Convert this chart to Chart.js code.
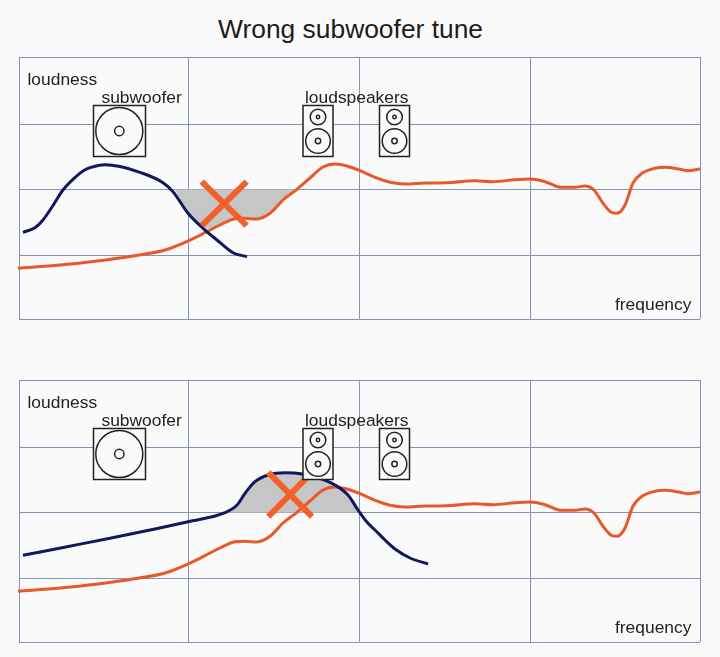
<!DOCTYPE html>
<html>
<head>
<meta charset="utf-8">
<title>Wrong subwoofer tune</title>
<script src="https://cdn.jsdelivr.net/npm/chart.js@4"></script>
<style>
  html, body { margin: 0; padding: 0; background: #fafafa; }
  #title { position: absolute; left: 218px; top: 14px; margin: 0; font: normal 26.4px "Liberation Sans", sans-serif; color: #1c1c1c; white-space: nowrap; }
  canvas { position: absolute; left: 0; }
  #topChart { top: 0; }
  #bottomChart { top: 323px; }
</style>
</head>
<body>
<h1 id="title">Wrong subwoofer tune</h1>
<canvas id="topChart" width="720" height="327"></canvas>
<canvas id="bottomChart" width="720" height="327"></canvas>
<script>
// axis units are arbitrary, the picture has no numbers on its axes
var freqTicks = [0, 169, 340, 511.5, 681];
var loudTicks = [-129.5, -65.5, 0, 65.5, 132.5];

// loudspeaker response, same in both panels
var speakerFreq = [-1, 41, 81, 114, 146, 169, 186, 201, 216, 226, 238, 251, 264, 278, 291, 304, 316, 328, 341, 356, 371, 386, 406, 428, 456, 474, 496, 511, 526, 543, 556, 566, 575, 584, 593, 598, 606, 614, 623, 636, 646, 661, 668, 681];
var speakerLoud = [-78.8, -75.5, -71.2, -66.5, -60.5, -51.5, -43.2, -35.5, -29.2, -28.8, -29.5, -23.8, -10.5, 0.2, 11.5, 22.5, 25.5, 23.5, 18.8, 12.2, 7.2, 5.5, 6.5, 6.8, 8.8, 7.8, 9.8, 10.5, 7.8, 2.2, 2.2, 3.5, -0.5, -13.8, -23.2, -23.8, -15.5, 6.5, 16.2, 21.2, 22.2, 20.2, 18.8, 20.5];

// subwoofer tuned too low
var lowSubFreq = [4, 16, 24, 34, 44, 56, 64, 71, 86, 101, 121, 144, 154, 169, 184, 198, 214, 228];
var lowSubLoud = [-42.8, -38.2, -30.5, -16, -0.5, 12, 18.5, 21.8, 24.8, 23, 17.2, 6.8, -2.2, -23.8, -38.8, -50.5, -63.2, -67.2];
var lowGapFreq = [156, 169, 186, 201, 216, 226, 238, 251, 264, 278];
var lowGapLoud = [0, -23.8, -39.5, -35.5, -29.2, -28.8, -29.5, -23.8, -10.5, 0];
var lowCrossFreq = [182.7, 227.7];
var lowCrossDown = [7.8, -36.2];
var lowCrossUp = [-36.2, 7.8];

// subwoofer tuned too high
var highSubFreq = [4, 48, 91, 131, 169, 206, 218, 226, 236, 249, 266, 283, 313, 329, 339, 349, 356, 366, 376, 391, 409];
var highSubLoud = [-42.8, -34.2, -25.8, -17.5, -9.2, -0.2, 7.5, 19.2, 30.8, 37.5, 39.8, 38.5, 29.2, 17.5, 2.5, -10.8, -17.5, -27.5, -36.5, -45.5, -51.5];
var highGapFreq = [206, 218, 226, 236, 249, 266, 283, 313, 329, 339, 341];
var highGapLoud = [0, 7.5, 19.2, 30.8, 37.5, 39.8, 38.5, 29.2, 17.5, 2.5, 0];
var highCrossFreq = [249.3, 293];
var highCrossDown = [40.2, -4.2];
var highCrossUp = [-4.2, 40.2];

var gridColor = '#8494b8';
var orange = '#e8582a';
var navy = '#12175f';
var crossColor = '#f4602a';
var gapColor = '#c6c6c6';
var inkColor = '#222222';

function points(xs, ys) {
  return xs.map(function (x, i) { return {x: x, y: ys[i]}; });
}

function curve(xs, ys, color) {
  return {data: points(xs, ys), borderColor: color, borderWidth: 3, cubicInterpolationMode: 'monotone', pointRadius: 0, fill: false, clip: false};
}

function crossLine(xs, ys) {
  return {data: points(xs, ys), borderColor: crossColor, borderWidth: 6, tension: 0, pointRadius: 0, fill: false, borderCapStyle: 'butt'};
}

function gap(xs, ys) {
  return {data: points(xs, ys), borderWidth: 0, cubicInterpolationMode: 'monotone', pointRadius: 0, fill: 'origin', backgroundColor: gapColor};
}

function circle(ctx, x, y, r) {
  ctx.beginPath();
  ctx.arc(x, y, r, 0, Math.PI * 2);
  ctx.stroke();
}

function box(ctx, x, y, w, h) {
  ctx.fillStyle = '#fafafa';
  ctx.fillRect(x, y, w, h);
  ctx.strokeRect(x, y, w, h);
}

function drawSpeaker(ctx, x) {
  box(ctx, x, 105.5, 30, 51);
  circle(ctx, x + 15, 117, 7.8);
  circle(ctx, x + 15, 117, 1.7);
  circle(ctx, x + 15, 141, 12.3);
  circle(ctx, x + 15, 141, 2.7);
}

// icons and labels go on top of the curves
var iconsPlugin = {
  id: 'icons',
  afterDraw: function (chart) {
    var ctx = chart.ctx;
    ctx.save();
    ctx.strokeStyle = inkColor;
    ctx.lineWidth = 1.5;
    box(ctx, 93.5, 105.5, 52, 51);
    circle(ctx, 119.3, 131, 23.5);
    circle(ctx, 119.3, 131, 4.7);
    drawSpeaker(ctx, 303);
    drawSpeaker(ctx, 379.5);
    ctx.fillStyle = inkColor;
    ctx.font = '17.4px "Liberation Sans", sans-serif';
    ctx.fillText('loudness', 27.5, 84.5);
    ctx.fillText('subwoofer', 101.5, 102.5);
    ctx.fillText('loudspeakers', 305, 102.5);
    ctx.fillText('frequency', 615, 310);
    ctx.restore();
  }
};

// first dataset is drawn last, so the crosses go first and the fill goes last
function makeChart(id, subFreq, subLoud, gapFreq, gapLoud, crossFreq, crossDown, crossUp) {
  var ctx = document.getElementById(id).getContext('2d');
  return new Chart(ctx, {
    type: 'line',
    data: {
      datasets: [
        crossLine(crossFreq, crossDown),
        crossLine(crossFreq, crossUp),
        curve(subFreq, subLoud, navy),
        curve(speakerFreq, speakerLoud, orange),
        gap(gapFreq, gapLoud)
      ]
    },
    options: {
      responsive: false,
      animation: false,
      layout: {padding: {left: 19, right: 20, top: 57, bottom: 8}},
      plugins: {legend: {display: false}, tooltip: {enabled: false}},
      scales: {
        x: {
          type: 'linear',
          min: 0,
          max: 681,
          afterBuildTicks: function (axis) {
            axis.ticks = freqTicks.map(function (v) { return {value: v}; });
          },
          ticks: {display: false},
          grid: {color: gridColor, lineWidth: 1, drawTicks: false},
          border: {display: false}
        },
        y: {
          type: 'linear',
          min: -129.5,
          max: 132.5,
          afterBuildTicks: function (axis) {
            axis.ticks = loudTicks.map(function (v) { return {value: v}; });
          },
          ticks: {display: false},
          grid: {color: gridColor, lineWidth: 1, drawTicks: false},
          border: {display: false}
        }
      }
    },
    plugins: [iconsPlugin]
  });
}

makeChart('topChart', lowSubFreq, lowSubLoud, lowGapFreq, lowGapLoud, lowCrossFreq, lowCrossDown, lowCrossUp);
makeChart('bottomChart', highSubFreq, highSubLoud, highGapFreq, highGapLoud, highCrossFreq, highCrossDown, highCrossUp);
</script>
</body>
</html>
